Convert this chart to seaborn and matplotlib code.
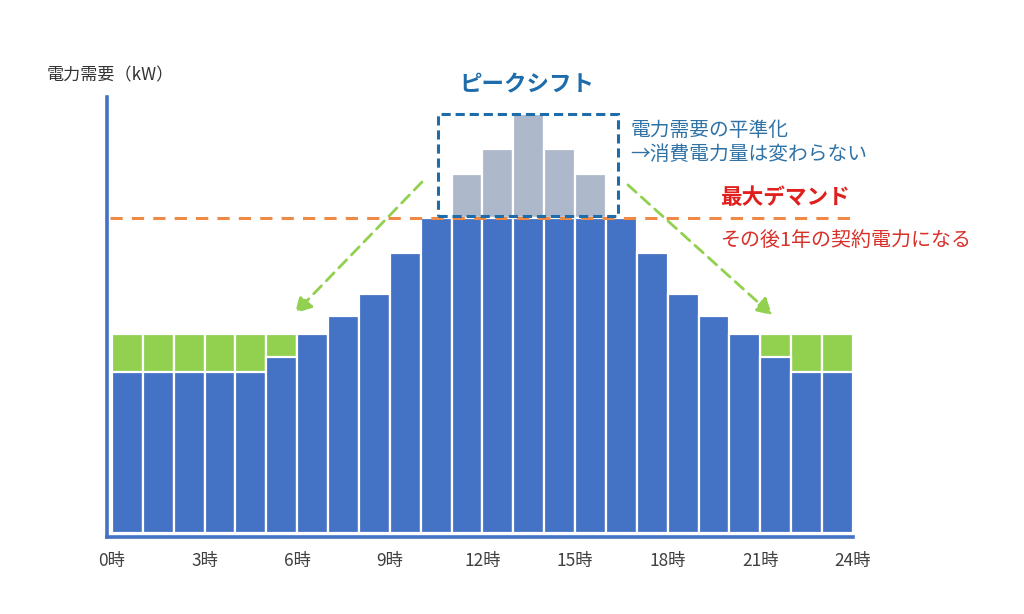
import numpy as np
import pandas as pd
import matplotlib
matplotlib.use("Agg")
import matplotlib.pyplot as plt
import seaborn as sns
from matplotlib.patches import Rectangle

# ---- data ----
hours = list(range(24))
base_demand = [51, 51, 51, 51, 51, 56, 63, 69, 76, 89, 100, 100,
               100, 100, 100, 100, 100, 89, 76, 69, 63, 56, 51, 51]
shifted_add = [12, 12, 12, 12, 12, 7, 0, 0, 0, 0, 0, 0,
               0, 0, 0, 0, 0, 0, 0, 0, 0, 7, 12, 12]
peak_cut = [0, 0, 0, 0, 0, 0, 0, 0, 0, 0, 0, 14,
            22, 33, 22, 14, 0, 0, 0, 0, 0, 0, 0, 0]
max_demand = 100
tick_hours = [0, 3, 6, 9, 12, 15, 18, 21, 24]
tick_labels = ["0時", "3時", "6時", "9時", "12時", "15時", "18時", "21時", "24時"]

sns.set_theme(style="white")
plt.rcParams['font.family'] = ['Noto Sans CJK JP', 'DejaVu Sans']

BLUE = '#4472C4'
GREEN = '#92D050'
GREY = '#ADB9CA'
ORANGE = '#EE8A45'
BOXBLUE = '#1F6CAB'

df = pd.DataFrame({
    "pos": [h + 0.5 for h in hours],
    "base": base_demand,
    "shift_total": [b + s for b, s in zip(base_demand, shifted_add)],
    "peak_total": [b + p for b, p in zip(base_demand, peak_cut)],
})

W, H = 1024, 614
fig = plt.figure(figsize=(W / 100, H / 100), dpi=100)
fig.patch.set_facecolor('white')
ax = fig.add_axes([107 / W, 1 - 537 / H, (853 - 107) / W, (537 - 97) / H])
ax.set_facecolor('none')

common = dict(x="pos", native_scale=True, width=1.0, errorbar=None,
              saturation=1, edgecolor='white', linewidth=1.6, ax=ax)
sns.barplot(data=df, y="peak_total", color=GREY, **common)
sns.barplot(data=df, y="shift_total", color=GREEN, **common)
sns.barplot(data=df, y="base", color=BLUE, **common)

ax.set_xlim(-0.16, 24.0)
ax.set_ylim(-1.3, 138.4)
ax.set_xlabel("")
ax.set_ylabel("")
ax.set_yticks([])
ax.set_xticks(tick_hours)
ax.set_xticklabels(tick_labels, fontsize=12.5, color='#404040')
ax.tick_params(axis='x', length=0, pad=11)
for s in ['top', 'right']:
    ax.spines[s].set_visible(False)
for s in ['left', 'bottom']:
    ax.spines[s].set_color(BLUE)
    ax.spines[s].set_linewidth(2.6)
ax.grid(False)

# max demand line
ax.plot([-0.06, 23.9], [max_demand, max_demand], color=ORANGE, lw=2.2,
        linestyle=(0, (4, 3)), zorder=5, clip_on=False)

# peak shift box
peak_max = max(b + p for b, p in zip(base_demand, peak_cut))
ax.add_patch(Rectangle((10.56, 100.6), 5.83, peak_max - 100.6,
                       fill=False, edgecolor=BOXBLUE, lw=2.2,
                       linestyle=(0, (3, 1.6)), zorder=6, clip_on=False))

# green arrows
for (x0, y0), (x1, y1) in [((10.04, 111.4), (5.93, 69.8)),
                           ((16.71, 110.5), (21.38, 69.2))]:
    ax.annotate("", xy=(x1, y1), xytext=(x0, y0),
                arrowprops=dict(arrowstyle='-|>,head_length=0.8,head_width=0.45',
                                color=GREEN, lw=2.0, linestyle=(0, (4, 2.5)),
                                shrinkA=0, shrinkB=0), zorder=6)

def ftext(px, py, s, **kw):
    fig.text(px / W, 1 - py / H, s, **kw)

ftext(47, 75, "電力需要（kW）", ha='left', va='center', fontsize=12.3, color='#333333')
ftext(527, 85, "ピークシフト", ha='center', va='center', fontsize=16.2,
      fontweight='bold', color=BOXBLUE)
ftext(630, 130, "電力需要の平準化", ha='left', va='center', fontsize=14.2, color='#2F72A6')
ftext(630, 155, "→消費電力量は変わらない", ha='left', va='center', fontsize=14.2, color='#2F72A6')
ftext(720, 198, "最大デマンド", ha='left', va='center', fontsize=15.6,
      fontweight='bold', color='#E0201E')
ftext(721, 240, "その後1年の契約電力になる", ha='left', va='center', fontsize=14.4,
      color='#D8302A')

fig.savefig("out.png", dpi=100, facecolor='white')
